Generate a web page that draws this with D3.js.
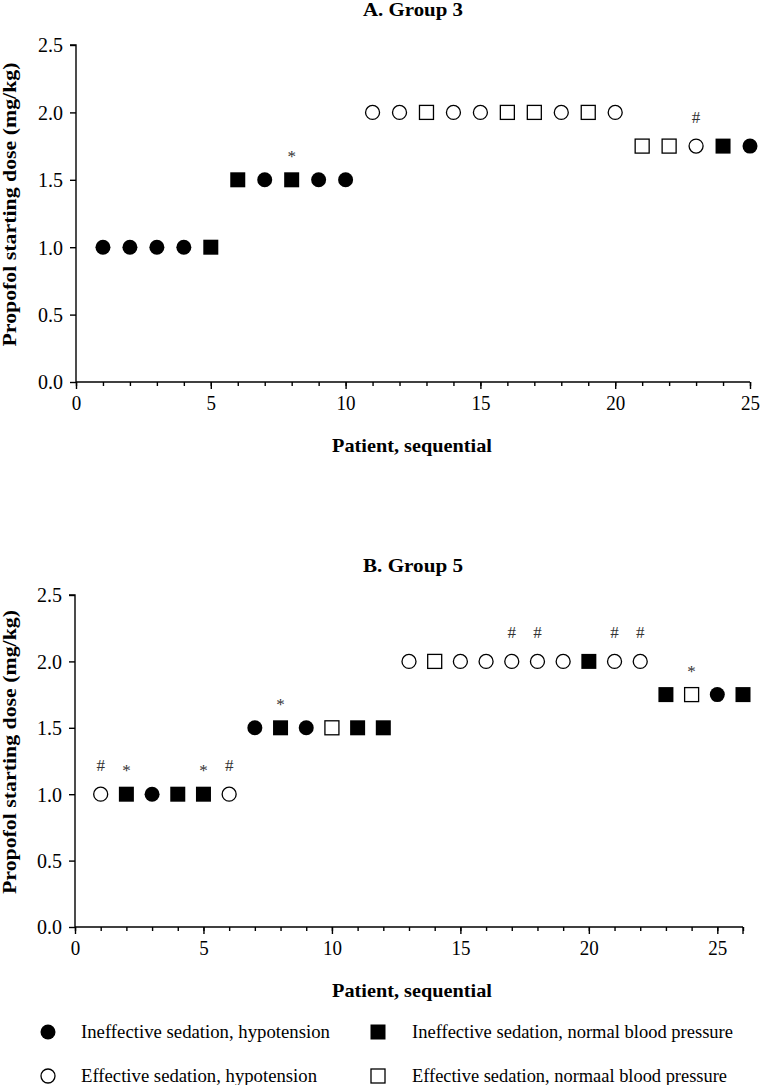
<!DOCTYPE html>
<html><head><meta charset="utf-8">
<script src="https://cdn.jsdelivr.net/npm/d3@7"></script>
<style>body{margin:0;background:#fff}svg{display:block}text{font-family:"Liberation Serif","Times New Roman",serif}</style>
</head><body>
<svg id="c" width="760" height="1085"></svg>
<script>
// Group 3 data
const g3Patients = d3.range(1, 26);
const g3Dose = [1.0,1.0,1.0,1.0,1.0, 1.5,1.5,1.5,1.5,1.5, 2.0,2.0,2.0,2.0,2.0,2.0,2.0,2.0,2.0,2.0, 1.75,1.75,1.75,1.75,1.75];
const g3Type = ["IH","IH","IH","IH","IN", "IN","IH","IN","IH","IH", "EH","EH","EN","EH","EH","EN","EN","EH","EN","EH", "EN","EN","EH","IN","IH"];
const g3Marks = [{p:8, s:"*"}, {p:23, s:"#"}];
// Group 5 data
const g5Patients = d3.range(1, 27);
const g5Dose = [1.0,1.0,1.0,1.0,1.0,1.0, 1.5,1.5,1.5,1.5,1.5,1.5, 2.0,2.0,2.0,2.0,2.0,2.0,2.0,2.0,2.0,2.0, 1.75,1.75,1.75,1.75];
const g5Type = ["EH","IN","IH","IN","IN","EH", "IH","IN","IH","EN","IN","IN", "EH","EN","EH","EH","EH","EH","EH","IN","EH","EH", "IN","EN","IH","IN"];
const g5Marks = [{p:1,s:"#"},{p:2,s:"*"},{p:5,s:"*"},{p:6,s:"#"},{p:8,s:"*"},{p:17,s:"#"},{p:18,s:"#"},{p:21,s:"#"},{p:22,s:"#"},{p:24,s:"*"}];
const yTicks = [0, 0.5, 1.0, 1.5, 2.0, 2.5];
const legendTypes = ["IH","IN","EH","EN"];
const legendLabels = {
  IH: "Ineffective sedation, hypotension",
  IN: "Ineffective sedation, normal blood pressure",
  EH: "Effective sedation, hypotension",
  EN: "Effective sedation, normaal blood pressure"
};

const svg = d3.select("#c");

function numWidth(s) { // target rendered width of a tick label
  let w = 0;
  for (const ch of s) w += ch === "." ? 6 : 9.5;
  return w;
}

function drawMarker(g, type, x, y) {
  const filled = type[0] === "I";
  const circle = type[1] === "H";
  if (circle) {
    g.append("circle").attr("cx", x).attr("cy", y).attr("r", filled ? 7.5 : 7)
      .attr("fill", filled ? "#000" : "#fff").attr("stroke", "#000").attr("stroke-width", filled ? 0 : 1.3);
  } else {
    const s = filled ? 15 : 14;
    g.append("rect").attr("x", x - s/2).attr("y", y - s/2).attr("width", s).attr("height", s)
      .attr("fill", filled ? "#000" : "#fff").attr("stroke", filled ? "none" : "#000").attr("stroke-width", 1.3);
  }
}

function panel(opts) {
  const {patients, dose, types, marks, xMax, x0, x1, yTop, yBot, title, titleY, xLabelY} = opts;
  const x = d3.scaleLinear().domain([0, xMax]).range([x0, x1]);
  const y = d3.scaleLinear().domain([0, 2.5]).range([yBot, yTop]);
  const g = svg.append("g");

  // y axis
  const ya = g.append("g").attr("transform", `translate(${x0},0)`)
    .call(d3.axisLeft(y).tickValues(yTicks).tickFormat(d3.format(".1f")).tickSize(6).tickPadding(7));
  ya.select(".domain").attr("stroke-width", 1.4).attr("d", `M-6,${yTop}H0V${yBot}`);
  ya.selectAll(".tick line").attr("stroke-width", 1.4);
  ya.selectAll("text").attr("font-size", 20).attr("fill", "#000").attr("font-family", "Liberation Serif")
    .attr("dy", "0.34em")
    .attr("textLength", function() { return numWidth(this.textContent); }).attr("lengthAdjust", "spacingAndGlyphs");

  // x minor ticks
  const xm = g.append("g").attr("transform", `translate(0,${yBot})`)
    .call(d3.axisBottom(x).tickValues(d3.range(0, xMax + 1)).tickSize(4).tickFormat(""));
  xm.select(".domain").attr("stroke-width", 1.4).attr("d", `M${x0},0H${x1}`);
  xm.selectAll(".tick line").attr("stroke-width", 1.4);
  // x major ticks
  const xa = g.append("g").attr("transform", `translate(0,${yBot})`)
    .call(d3.axisBottom(x).tickValues(d3.range(0, xMax + 1, 5)).tickSize(7).tickPadding(7));
  xa.select(".domain").remove();
  xa.selectAll(".tick line").attr("stroke-width", 1.4);
  xa.selectAll("text").attr("font-size", 20).attr("fill", "#000").attr("font-family", "Liberation Serif")
    .attr("textLength", function() { return numWidth(this.textContent); }).attr("lengthAdjust", "spacingAndGlyphs");
  if (xMax % 5 !== 0) {
    g.append("line").attr("x1", x(xMax)).attr("x2", x(xMax)).attr("y1", yBot).attr("y2", yBot + 7)
      .attr("stroke", "#000").attr("stroke-width", 1.4);
  }

  // title
  g.append("text").attr("x", 413).attr("y", titleY).attr("text-anchor", "middle")
    .attr("font-size", 18).attr("font-weight", "bold")
    .attr("textLength", 100).attr("lengthAdjust", "spacingAndGlyphs").text(title);
  // x label
  g.append("text").attr("x", 412).attr("y", xLabelY).attr("text-anchor", "middle")
    .attr("font-size", 19).attr("font-weight", "bold")
    .attr("textLength", 160).attr("lengthAdjust", "spacingAndGlyphs").text("Patient, sequential");
  // y label
  g.append("text").attr("transform", `translate(16,${(yTop + yBot) / 2 - 9}) rotate(-90)`)
    .attr("text-anchor", "middle").attr("font-size", 19).attr("font-weight", "bold")
    .attr("textLength", 284).attr("lengthAdjust", "spacingAndGlyphs")
    .text("Propofol starting dose (mg/kg)");

  // markers
  patients.forEach((p, i) => drawMarker(g, types[i], x(p), y(dose[i])));
  // annotations
  marks.forEach(m => {
    const i = patients.indexOf(m.p);
    g.append("text").attr("x", x(m.p)).attr("y", y(dose[i]) - (m.s === "*" ? 18 : 23))
      .attr("text-anchor", "middle").attr("font-size", 17).attr("fill", "#333").text(m.s);
  });
}

panel({patients: g3Patients, dose: g3Dose, types: g3Type, marks: g3Marks, xMax: 25,
  x0: 76, x1: 750, yTop: 45, yBot: 382, title: "A. Group 3", titleY: 16, xLabelY: 452});
panel({patients: g5Patients, dose: g5Dose, types: g5Type, marks: g5Marks, xMax: 26,
  x0: 75, x1: 743, yTop: 595, yBot: 927, title: "B. Group 5", titleY: 572, xLabelY: 997});

// legend
const legendX = {IH: [48, 81, 330], IN: [378, 412, 733], EH: [48, 81, 317], EN: [378, 412, 727]};
const lg = svg.append("g");
legendTypes.forEach((t, i) => {
  const row = Math.floor(i / 2);
  const [mx, tx, tEnd] = legendX[t];
  const ty = row === 0 ? 1032 : 1076;
  drawMarker(lg, t, mx, ty);
  lg.append("text").attr("x", tx).attr("y", ty + 6).attr("font-size", 18)
    .attr("textLength", tEnd - tx).attr("lengthAdjust", "spacingAndGlyphs").text(legendLabels[t]);
});
</script>
</body></html>
